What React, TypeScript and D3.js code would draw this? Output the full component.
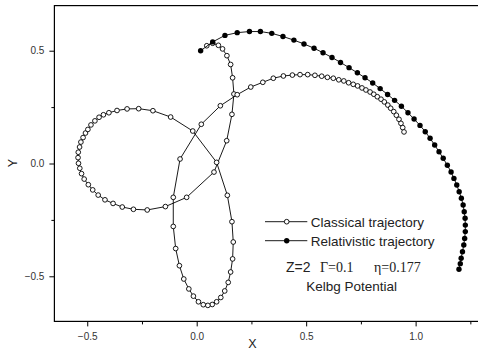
import React, {useEffect, useRef} from 'react';
import * as d3 from 'd3';

// classical trajectory (open circles)
const classicalX = [
  0.046, 0.073, 0.099, 0.118, 0.138, 0.155, 0.164, 0.17, 0.161, 0.137, 0.079, -0.046, -0.143, -0.226,
  -0.289, -0.34, -0.382, -0.419, -0.45, -0.475, -0.495, -0.514, -0.526, -0.534, -0.54, -0.542, -0.541,
  -0.535, -0.529, -0.519, -0.508, -0.497, -0.483, -0.465, -0.446, -0.426, -0.401, -0.364, -0.318,
  -0.265, -0.2, -0.119, -0.018, 0.091, 0.14, 0.161, 0.167, 0.164, 0.155, 0.144, 0.128, 0.11, 0.091,
  0.071, 0.051, 0.03, 0.008, -0.015, -0.036, -0.059, -0.079, -0.096, -0.107, -0.107, -0.076, 0.021,
  0.108, 0.185, 0.247, 0.302, 0.35, 0.396, 0.437, 0.472, 0.507, 0.54, 0.571, 0.597, 0.624, 0.649,
  0.672, 0.694, 0.715, 0.735, 0.755, 0.773, 0.792, 0.809, 0.825, 0.842, 0.857, 0.873, 0.886, 0.9,
  0.912, 0.924, 0.933, 0.941, 0.947,
];
const classicalY = [
  0.522, 0.533, 0.524, 0.508, 0.478, 0.439, 0.38, 0.308, 0.218, 0.101, -0.038, -0.15, -0.191, -0.206,
  -0.203, -0.193, -0.177, -0.161, -0.14, -0.117, -0.094, -0.069, -0.045, -0.021, 0.001, 0.026, 0.05,
  0.073, 0.095, 0.115, 0.135, 0.151, 0.171, 0.189, 0.205, 0.216, 0.225, 0.235, 0.242, 0.243, 0.234,
  0.206, 0.144, 0.005, -0.141, -0.258, -0.348, -0.423, -0.481, -0.527, -0.565, -0.594, -0.613, -0.625,
  -0.629, -0.626, -0.613, -0.588, -0.556, -0.512, -0.453, -0.377, -0.279, -0.15, 0.02, 0.174, 0.256,
  0.305, 0.339, 0.36, 0.378, 0.388, 0.392, 0.394, 0.394, 0.391, 0.387, 0.382, 0.378, 0.371, 0.366,
  0.358, 0.351, 0.344, 0.335, 0.326, 0.317, 0.307, 0.296, 0.285, 0.273, 0.259, 0.245, 0.23, 0.214,
  0.196, 0.178, 0.159, 0.14,
];

// relativistic trajectory (filled circles)
const relX = [
  0.018, 0.073, 0.129, 0.185, 0.241, 0.291, 0.343, 0.394, 0.444, 0.49, 0.536, 0.577, 0.618, 0.657,
  0.696, 0.734, 0.769, 0.804, 0.838, 0.872, 0.904, 0.935, 0.965, 0.993, 1.02, 1.044, 1.066, 1.087,
  1.107, 1.126, 1.145, 1.162, 1.175, 1.188, 1.199, 1.209, 1.217, 1.222, 1.226, 1.227, 1.227, 1.224,
  1.22, 1.214, 1.208, 1.204, 1.198,
];
const relY = [
  0.5, 0.539, 0.568, 0.58, 0.585, 0.585, 0.577, 0.563, 0.547, 0.53, 0.511, 0.491, 0.47, 0.448, 0.425,
  0.402, 0.38, 0.357, 0.332, 0.306, 0.28, 0.254, 0.225, 0.197, 0.169, 0.141, 0.112, 0.082, 0.052,
  0.023, -0.008, -0.038, -0.066, -0.095, -0.125, -0.154, -0.184, -0.214, -0.243, -0.273, -0.302,
  -0.332, -0.361, -0.391, -0.42, -0.444, -0.469,
];

const xMajor = [-0.5, 0, 0.5, 1.0];
const xMinor = [-0.25, 0.25, 0.75, 1.25];
const yMajor = [-0.5, 0, 0.5];
const yMinor = [-0.25, 0.25];

const App: React.FC = () => {
  const svgRef = useRef<SVGSVGElement>(null);

  useEffect(() => {
    const width = 478;
    const height = 350;
    const margin = {top: 5.6, left: 54.4};
    const plotW = 426.9;
    const plotH = 315.8;
    const sans = '"Liberation Sans", Arial, sans-serif';
    const serif = '"Liberation Serif", "Times New Roman", serif';

    const root = d3.select(svgRef.current);
    root.selectAll('*').remove();
    root.attr('width', width).attr('height', height);
    root.append('rect').attr('width', width).attr('height', height).attr('fill', '#fff');

    const svg = root.append('g').attr('transform', `translate(${margin.left},${margin.top})`);

    const x = d3.scaleLinear().domain([-0.65, 1.3]).range([0, plotW]);
    const y = d3.scaleLinear().domain([-0.7, 0.7]).range([plotH, 0]);

    // frame
    svg
      .append('rect')
      .attr('width', plotW)
      .attr('height', plotH)
      .attr('fill', 'none')
      .attr('stroke', '#000')
      .attr('stroke-width', 1.2);

    // axes (major + minor)
    const styleAxis = (g: any) => {
      g.select('.domain').remove();
      g.selectAll('line').attr('stroke', '#000');
      g.selectAll('text').attr('font-family', sans).attr('font-size', 10).attr('fill', '#333');
    };
    svg
      .append('g')
      .attr('transform', `translate(0,${plotH})`)
      .call(d3.axisBottom(x).tickValues(xMajor).tickSize(5).tickPadding(6.6).tickFormat(d3.format('.1f')))
      .call(styleAxis);
    svg
      .append('g')
      .attr('transform', `translate(0,${plotH})`)
      .call(d3.axisBottom(x).tickValues(xMinor).tickSize(3).tickFormat(() => ''))
      .call(styleAxis);
    svg
      .append('g')
      .call(d3.axisLeft(y).tickValues(yMajor).tickSize(5).tickPadding(5).tickFormat(d3.format('.1f')))
      .call(styleAxis);
    svg
      .append('g')
      .call(d3.axisLeft(y).tickValues(yMinor).tickSize(3).tickFormat(() => ''))
      .call(styleAxis);

    // axis titles
    root
      .append('text')
      .attr('x', 252.3)
      .attr('y', 347.5)
      .attr('text-anchor', 'middle')
      .attr('font-family', sans)
      .attr('font-size', 12.5)
      .attr('fill', '#222')
      .text('X');
    root
      .append('text')
      .attr('transform', 'translate(17.2,163) rotate(-90)')
      .attr('text-anchor', 'middle')
      .attr('font-family', sans)
      .attr('font-size', 12.5)
      .attr('fill', '#222')
      .text('Y');

    const classical = classicalX.map((v, i) => [v, classicalY[i]]);
    const relativistic = relX.map((v, i) => [v, relY[i]]);
    const line = d3
      .line<number[]>()
      .x((d) => x(d[0]))
      .y((d) => y(d[1]));

    // classical trajectory
    svg
      .append('path')
      .datum(classical)
      .attr('d', line)
      .attr('fill', 'none')
      .attr('stroke', '#000')
      .attr('stroke-width', 0.9);
    svg
      .selectAll('.cl')
      .data(classical)
      .enter()
      .append('circle')
      .attr('class', 'cl')
      .attr('cx', (d) => x(d[0]))
      .attr('cy', (d) => y(d[1]))
      .attr('r', 2.35)
      .attr('fill', '#fff')
      .attr('stroke', '#000')
      .attr('stroke-width', 0.9);

    // relativistic trajectory
    svg
      .append('path')
      .datum(relativistic)
      .attr('d', line)
      .attr('fill', 'none')
      .attr('stroke', '#000')
      .attr('stroke-width', 0.9);
    svg
      .selectAll('.rel')
      .data(relativistic)
      .enter()
      .append('circle')
      .attr('class', 'rel')
      .attr('cx', (d) => x(d[0]))
      .attr('cy', (d) => y(d[1]))
      .attr('r', 2.7)
      .attr('fill', '#000');

    // legend
    const legend = root.append('g');
    const items = [
      {label: 'Classical trajectory', filled: false, y: 221.7},
      {label: 'Relativistic trajectory', filled: true, y: 240.7},
    ];
    items.forEach((it) => {
      legend
        .append('line')
        .attr('x1', 265)
        .attr('x2', 307.3)
        .attr('y1', it.y)
        .attr('y2', it.y)
        .attr('stroke', '#000')
        .attr('stroke-width', 0.9);
      legend
        .append('circle')
        .attr('cx', 286.7)
        .attr('cy', it.y)
        .attr('r', it.filled ? 2.7 : 2.35)
        .attr('fill', it.filled ? '#000' : '#fff')
        .attr('stroke', '#000')
        .attr('stroke-width', it.filled ? 0 : 0.9);
      legend
        .append('text')
        .attr('x', 310.7)
        .attr('y', it.y + 4.8)
        .attr('font-family', sans)
        .attr('font-size', 13.5)
        .attr('fill', '#222')
        .text(it.label);
    });
    const params = [
      {t: 'Z=2', x: 286, font: sans},
      {t: 'Γ=0.1', x: 320, font: serif},
      {t: 'η=0.177', x: 374, font: serif},
    ];
    params.forEach((p) => {
      legend
        .append('text')
        .attr('x', p.x)
        .attr('y', 271.5)
        .attr('font-family', p.font)
        .attr('font-size', 14)
        .attr('fill', '#222')
        .text(p.t);
    });
    legend
      .append('text')
      .attr('x', 351.7)
      .attr('y', 290.5)
      .attr('text-anchor', 'middle')
      .attr('font-family', sans)
      .attr('font-size', 13.5)
      .attr('fill', '#222')
      .text('Kelbg Potential');
  }, []);

  return (
    <div style={{position: 'absolute', left: 0, top: 0}}>
      <svg ref={svgRef} style={{display: 'block'}}></svg>
    </div>
  );
};

export default App;
